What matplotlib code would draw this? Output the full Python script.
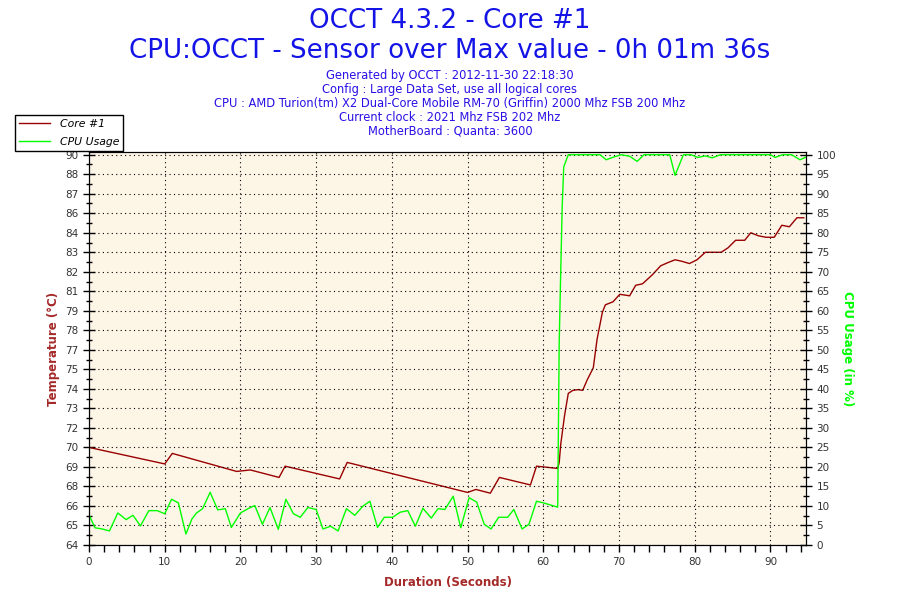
import matplotlib
matplotlib.use('Agg')
import matplotlib.pyplot as plt
import matplotlib.ticker as ticker
import numpy as np

# chart data
temp_time = [0, 10, 11, 19.5, 21.3, 25.1, 25.9, 33.1, 34.1, 50, 51.1, 53, 54.2,
             58.3, 59.1, 61.9, 62.1, 62.3, 62.8, 63.3, 63.9, 64.6, 65.2, 65.8,
             66.6, 67.1, 67.8, 68.2, 69.2, 70.1, 71.4, 72.2, 73.1, 74.4, 75.5,
             76.4, 77.4, 78.3, 79.3, 80.3, 81.4, 83.5, 84.4, 85.4, 86.6, 87.4,
             88.4, 89.4, 90.5, 91.5, 92.5, 93.5, 94.4]
temp_values = [70.5, 69.4, 70.1, 68.9, 69.0, 68.5, 69.25, 68.4, 69.5, 67.5, 67.7,
               67.45, 68.5, 68.0, 69.25, 69.1, 69.5, 70.7, 72.6, 74.1, 74.3,
               74.35, 74.3, 75.0, 75.8, 77.7, 79.5, 80.0, 80.2, 80.7, 80.6, 81.3,
               81.4, 82.0, 82.6, 82.8, 83.0, 82.9, 82.75, 83.0, 83.5, 83.5, 83.8,
               84.3, 84.3, 84.8, 84.6, 84.5, 84.5, 85.3, 85.2, 85.8, 85.8]

cpu_time = [0, 0.8, 1.75, 2.7, 3.8, 4.9, 5.8, 6.8, 7.9, 9.0, 10, 10.9, 11.8,
            12.8, 13.6, 14.2, 15.0, 16.0, 17.0, 18.0, 18.8, 20, 21.1, 21.9,
            22.9, 23.9, 25.0, 26.0, 27.0, 27.9, 28.9, 30, 30.9, 31.9, 32.9,
            34.0, 35.1, 36.2, 37.1, 38.1, 39.0, 40.1, 41.1, 42.1, 43.1, 44.1,
            45.2, 46.1, 47.0, 48.1, 49.1, 50.2, 51.2, 52.2, 53.1, 54.1, 55.3,
            56.1, 57.2, 58.1, 59.1, 60, 61.9, 62.1, 62.3, 62.5, 62.7, 63.3,
            67.5, 68.3, 69.3, 70.3, 71.4, 72.4, 73.3, 76.7, 77.4, 78.5, 79.5,
            80.4, 81.4, 82.3, 83.4, 90.0, 90.6, 91.6, 92.8, 93.9, 94.7]
cpu_values = [7.7, 4.4, 4.1, 3.6, 8.2, 6.5, 7.6, 4.9, 8.8, 8.8, 8.0, 11.7, 10.8,
              2.8, 6.7, 8.2, 9.3, 13.5, 9.0, 9.3, 4.5, 8.2, 9.4, 10.1, 5.3, 9.6,
              4.0, 11.7, 8.0, 7.1, 9.6, 9.1, 4.1, 4.8, 3.6, 9.3, 7.6, 10.0, 11.2,
              4.5, 7.1, 7.1, 8.4, 8.8, 4.8, 9.4, 6.9, 9.3, 9.1, 12.5, 4.4, 12.1,
              11.0, 5.3, 4.1, 7.1, 7.1, 9.1, 4.1, 5.3, 11.2, 10.8, 9.7, 52, 70,
              87, 96.9, 100, 100, 98.7, 99.4, 100, 99.6, 98.3, 100, 100, 94.7,
              100, 100, 99.3, 99.7, 99.2, 100, 100, 99.3, 100, 100, 98.7, 99.4]

temp_tick_labels = ['64', '65', '66', '68', '69', '70', '72', '73', '74', '75', '77',
                    '78', '79', '81', '82', '83', '84', '86', '87', '88', '90']
cpu_ticks = list(range(0, 101, 5))

info_lines = [
    'Generated by OCCT : 2012-11-30 22:18:30',
    'Config : Large Data Set, use all logical cores',
    'CPU : AMD Turion(tm) X2 Dual-Core Mobile RM-70 (Griffin) 2000 Mhz FSB 200 Mhz',
    'Current clock : 2021 Mhz FSB 202 Mhz',
    'MotherBoard : Quanta: 3600',
]

TEMP_COLOR = '#990000'
CPU_COLOR = '#00ff00'
LABEL_RED = '#a52a2a'
TICK_GREY = '#333333'
dots = (0, (1, 3))

fig = plt.figure(figsize=(9, 6), dpi=100)
ax = fig.add_axes([0.0989, 0.0917, 0.7967, 0.655])
ax2 = ax.twinx()

ax.set_facecolor('#fdf5e6')

# a little headroom above 100 % so the flat top of the cpu line shows
top_pad = 0.7

# temperature on the left
temp_line, = ax.plot(temp_time, temp_values, color=TEMP_COLOR, lw=1, label='Core #1')
ax.set_ylim(64, 90 + top_pad * 0.26)
ax.set_yticks(np.linspace(64, 90, len(temp_tick_labels)))
ax.set_yticklabels(temp_tick_labels)
ax.yaxis.set_minor_locator(ticker.FixedLocator(np.linspace(64.65, 89.35, 20)))

# cpu usage on the right
cpu_line, = ax2.plot(cpu_time, cpu_values, color=CPU_COLOR, lw=1, label='CPU Usage')
ax2.set_ylim(0, 100 + top_pad)
ax2.set_yticks(cpu_ticks)
ax2.yaxis.set_minor_locator(ticker.FixedLocator(np.arange(2.5, 100, 5)))

ax.set_xlim(0, 94.7)
ax.xaxis.set_major_locator(ticker.MultipleLocator(10))
ax.xaxis.set_minor_locator(ticker.MultipleLocator(2))

ax.grid(axis='x', color='black', linestyle=dots, lw=0.8)
ax2.grid(axis='y', color='black', linestyle=dots, lw=0.8)
ax.set_axisbelow(True)

for a in (ax, ax2):
    a.tick_params(which='both', labelsize=7.5, labelcolor=TICK_GREY, width=1)
    for s in a.spines.values():
        s.set_color('black')
ax.tick_params(axis='y', which='major', direction='inout', length=8)
ax.tick_params(axis='y', which='minor', direction='inout', length=5)
ax2.tick_params(axis='y', which='major', direction='inout', length=8)
ax2.tick_params(axis='y', which='minor', direction='inout', length=5)
ax.tick_params(axis='x', which='both', direction='out', length=5, pad=4)

ax.set_xlabel('Duration (Seconds)', color=LABEL_RED, fontsize=8.5, fontweight='bold',
              labelpad=6)
ax.set_ylabel('Temperature (°C)', color=LABEL_RED, fontsize=8.5, fontweight='bold',
              labelpad=4)
ax2.set_ylabel('CPU Usage (in %)', color=CPU_COLOR, fontsize=8.5, fontweight='bold',
               rotation=-90, labelpad=13)

# legend sits outside, top-left
fig.legend(handles=[temp_line, cpu_line], loc='upper left',
           bbox_to_anchor=(15 / 900, 1 - 115 / 600),
           prop={'style': 'italic', 'size': 7.8}, frameon=True, fancybox=False,
           edgecolor='black', framealpha=1, borderpad=0.35, labelspacing=0.75,
           handlelength=2.9, handletextpad=0.9, borderaxespad=0)

fig.text(0.5, 1 - 21 / 600, 'OCCT 4.3.2 - Core #1', ha='center', va='center',
         fontsize=18.8, color='#1414e6')
fig.text(0.5, 1 - 51 / 600, 'CPU:OCCT - Sensor over Max value - 0h 01m 36s',
         ha='center', va='center', fontsize=18.8, color='#1414e6')
for i, line in enumerate(info_lines):
    fig.text(0.5, 1 - (76 + i * 13.8) / 600, line, ha='center', va='center',
             fontsize=8.3, color='#2a10e6')

fig.savefig('out.png', dpi=100)
